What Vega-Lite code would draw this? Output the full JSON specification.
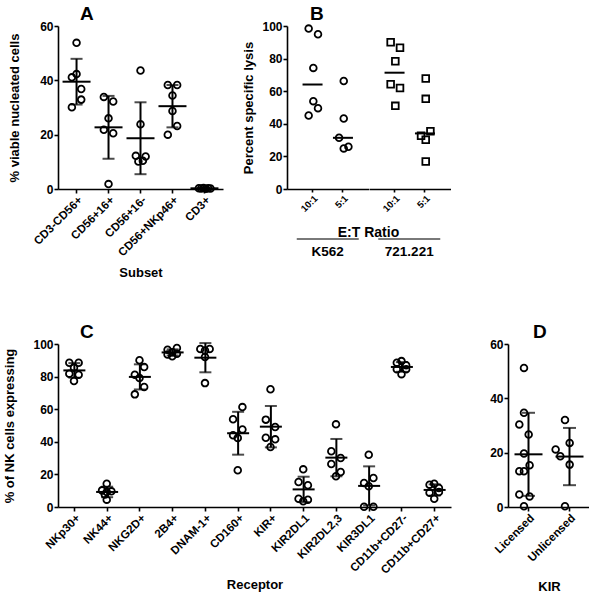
{
  "$schema": "https://vega.github.io/schema/vega-lite/v6.json",
  "padding": {"left": 3, "top": 5, "right": 0, "bottom": 0},
  "config": {
    "font": "Liberation Sans",
    "view": {"stroke": null},
    "axis": {"labelFont": "Liberation Sans", "labelFontWeight": "bold", "labelFontSize": 12, "labelColor": "black", "titleFont": "Liberation Sans", "titleFontWeight": "bold", "titleFontSize": 13, "titleColor": "black", "domainColor": "black", "domainWidth": 1.6, "tickColor": "black", "tickWidth": 1.6, "tickSize": 4, "labelPadding": 1, "grid": false, "labelOverlap": false},
    "title": {"font": "Liberation Sans", "fontSize": 19, "fontWeight": "bold", "color": "black", "anchor": "start", "frame": "group", "offset": -4}
  },
  "datasets": {
    "dA": [
      {"subset": "CD3-CD56+", "value": 53.8, "dodge": 0},
      {"subset": "CD3-CD56+", "value": 42.3, "dodge": 0},
      {"subset": "CD3-CD56+", "value": 41.1, "dodge": -1},
      {"subset": "CD3-CD56+", "value": 36.8, "dodge": 1},
      {"subset": "CD3-CD56+", "value": 32.9, "dodge": 1},
      {"subset": "CD3-CD56+", "value": 30.1, "dodge": -1},
      {"subset": "CD56+16+", "value": 33.9, "dodge": -1},
      {"subset": "CD56+16+", "value": 32.2, "dodge": 1},
      {"subset": "CD56+16+", "value": 26.0, "dodge": 0},
      {"subset": "CD56+16+", "value": 21.8, "dodge": -1},
      {"subset": "CD56+16+", "value": 20.5, "dodge": 1},
      {"subset": "CD56+16+", "value": 1.8, "dodge": 0},
      {"subset": "CD56+16-", "value": 43.6, "dodge": 0},
      {"subset": "CD56+16-", "value": 23.8, "dodge": 0},
      {"subset": "CD56+16-", "value": 12.2, "dodge": -1},
      {"subset": "CD56+16-", "value": 12.0, "dodge": 1.1},
      {"subset": "CD56+16-", "value": 10.1, "dodge": -0.45},
      {"subset": "CD56+16-", "value": 10.4, "dodge": 0.5},
      {"subset": "CD56+NKp46+", "value": 38.3, "dodge": -1},
      {"subset": "CD56+NKp46+", "value": 38.3, "dodge": 1},
      {"subset": "CD56+NKp46+", "value": 34.4, "dodge": 0},
      {"subset": "CD56+NKp46+", "value": 28.7, "dodge": 0},
      {"subset": "CD56+NKp46+", "value": 20.0, "dodge": -1},
      {"subset": "CD56+NKp46+", "value": 23.2, "dodge": 1},
      {"subset": "CD3+", "value": 0.3, "dodge": -1.2},
      {"subset": "CD3+", "value": 0.2, "dodge": -0.7},
      {"subset": "CD3+", "value": 0.4, "dodge": -0.2},
      {"subset": "CD3+", "value": 0.1, "dodge": 0.3},
      {"subset": "CD3+", "value": 0.3, "dodge": 0.8},
      {"subset": "CD3+", "value": 0.2, "dodge": 1.3}
    ],
    "dB": [
      {"target": "K562", "ratio": "10:1", "value": 98.4, "dodge": -1},
      {"target": "K562", "ratio": "10:1", "value": 94.9, "dodge": 1},
      {"target": "K562", "ratio": "10:1", "value": 74.3, "dodge": 0},
      {"target": "K562", "ratio": "10:1", "value": 53.9, "dodge": 0},
      {"target": "K562", "ratio": "10:1", "value": 49.6, "dodge": 1},
      {"target": "K562", "ratio": "10:1", "value": 45.1, "dodge": -1},
      {"target": "K562", "ratio": "5:1", "value": 66.3, "dodge": 0},
      {"target": "K562", "ratio": "5:1", "value": 43.3, "dodge": 0},
      {"target": "K562", "ratio": "5:1", "value": 31.4, "dodge": -1},
      {"target": "K562", "ratio": "5:1", "value": 24.9, "dodge": 0},
      {"target": "K562", "ratio": "5:1", "value": 25.9, "dodge": 1},
      {"target": "721.221", "ratio": "10:1", "value": 90.0, "dodge": -1},
      {"target": "721.221", "ratio": "10:1", "value": 86.7, "dodge": 1},
      {"target": "721.221", "ratio": "10:1", "value": 78.4, "dodge": 0},
      {"target": "721.221", "ratio": "10:1", "value": 64.3, "dodge": -1},
      {"target": "721.221", "ratio": "10:1", "value": 62.0, "dodge": 1},
      {"target": "721.221", "ratio": "10:1", "value": 51.0, "dodge": 0},
      {"target": "721.221", "ratio": "5:1", "value": 67.8, "dodge": 0},
      {"target": "721.221", "ratio": "5:1", "value": 55.3, "dodge": 0},
      {"target": "721.221", "ratio": "5:1", "value": 35.5, "dodge": 1},
      {"target": "721.221", "ratio": "5:1", "value": 32.7, "dodge": -1},
      {"target": "721.221", "ratio": "5:1", "value": 30.2, "dodge": 0},
      {"target": "721.221", "ratio": "5:1", "value": 16.9, "dodge": 0}
    ],
    "dG": [
      {"target": "K562"},
      {"target": "721.221"}
    ],
    "dC": [
      {"receptor": "NKp30+", "value": 88.5, "dodge": -1},
      {"receptor": "NKp30+", "value": 88.5, "dodge": 1},
      {"receptor": "NKp30+", "value": 85.5, "dodge": 0},
      {"receptor": "NKp30+", "value": 81.8, "dodge": -1},
      {"receptor": "NKp30+", "value": 81.2, "dodge": 1},
      {"receptor": "NKp30+", "value": 77.3, "dodge": 0},
      {"receptor": "NK44+", "value": 14.3, "dodge": 0},
      {"receptor": "NK44+", "value": 10.2, "dodge": -1},
      {"receptor": "NK44+", "value": 9.6, "dodge": 1},
      {"receptor": "NK44+", "value": 9.2, "dodge": 0},
      {"receptor": "NK44+", "value": 7.6, "dodge": -0.4},
      {"receptor": "NK44+", "value": 4.5, "dodge": 0},
      {"receptor": "NKG2D+", "value": 90.0, "dodge": 0},
      {"receptor": "NKG2D+", "value": 85.9, "dodge": 1},
      {"receptor": "NKG2D+", "value": 81.2, "dodge": -1},
      {"receptor": "NKG2D+", "value": 79.1, "dodge": 0},
      {"receptor": "NKG2D+", "value": 73.6, "dodge": 1},
      {"receptor": "NKG2D+", "value": 69.1, "dodge": -1},
      {"receptor": "2B4+", "value": 96.5, "dodge": -1},
      {"receptor": "2B4+", "value": 97.5, "dodge": 1},
      {"receptor": "2B4+", "value": 95.0, "dodge": 0},
      {"receptor": "2B4+", "value": 93.5, "dodge": -1},
      {"receptor": "2B4+", "value": 94.0, "dodge": 1},
      {"receptor": "2B4+", "value": 92.5, "dodge": 0},
      {"receptor": "DNAM-1+", "value": 97.0, "dodge": -1},
      {"receptor": "DNAM-1+", "value": 97.0, "dodge": 1},
      {"receptor": "DNAM-1+", "value": 96.0, "dodge": 0},
      {"receptor": "DNAM-1+", "value": 92.0, "dodge": 0},
      {"receptor": "DNAM-1+", "value": 76.0, "dodge": 0},
      {"receptor": "CD160+", "value": 61.3, "dodge": 1},
      {"receptor": "CD160+", "value": 53.8, "dodge": -1},
      {"receptor": "CD160+", "value": 47.6, "dodge": 1},
      {"receptor": "CD160+", "value": 44.0, "dodge": -1},
      {"receptor": "CD160+", "value": 42.3, "dodge": 0},
      {"receptor": "CD160+", "value": 22.5, "dodge": 0},
      {"receptor": "KIR+", "value": 72.2, "dodge": 0},
      {"receptor": "KIR+", "value": 53.6, "dodge": -1},
      {"receptor": "KIR+", "value": 49.1, "dodge": 1},
      {"receptor": "KIR+", "value": 42.5, "dodge": -1},
      {"receptor": "KIR+", "value": 41.5, "dodge": 1},
      {"receptor": "KIR+", "value": 36.8, "dodge": 0},
      {"receptor": "KIR2DL1", "value": 23.1, "dodge": 0},
      {"receptor": "KIR2DL1", "value": 15.3, "dodge": -1},
      {"receptor": "KIR2DL1", "value": 13.3, "dodge": 1},
      {"receptor": "KIR2DL1", "value": 5.1, "dodge": -1},
      {"receptor": "KIR2DL1", "value": 4.5, "dodge": 1},
      {"receptor": "KIR2DL1", "value": 3.5, "dodge": 0},
      {"receptor": "KIR2DL2,3", "value": 50.7, "dodge": 0},
      {"receptor": "KIR2DL2,3", "value": 34.2, "dodge": -1},
      {"receptor": "KIR2DL2,3", "value": 30.1, "dodge": 1},
      {"receptor": "KIR2DL2,3", "value": 26.4, "dodge": -1},
      {"receptor": "KIR2DL2,3", "value": 21.5, "dodge": 1},
      {"receptor": "KIR2DL2,3", "value": 18.8, "dodge": 0},
      {"receptor": "KIR3DL1", "value": 32.1, "dodge": 0},
      {"receptor": "KIR3DL1", "value": 17.8, "dodge": 1},
      {"receptor": "KIR3DL1", "value": 14.7, "dodge": -1},
      {"receptor": "KIR3DL1", "value": 12.7, "dodge": 0},
      {"receptor": "KIR3DL1", "value": 0.2, "dodge": -1},
      {"receptor": "KIR3DL1", "value": 0.2, "dodge": 1},
      {"receptor": "CD11b+CD27-", "value": 88.5, "dodge": -1},
      {"receptor": "CD11b+CD27-", "value": 89.5, "dodge": 0},
      {"receptor": "CD11b+CD27-", "value": 87.0, "dodge": 1},
      {"receptor": "CD11b+CD27-", "value": 84.5, "dodge": -1},
      {"receptor": "CD11b+CD27-", "value": 84.5, "dodge": 1},
      {"receptor": "CD11b+CD27-", "value": 81.5, "dodge": 0},
      {"receptor": "CD11b+CD27+", "value": 13.7, "dodge": -1},
      {"receptor": "CD11b+CD27+", "value": 14.3, "dodge": 0},
      {"receptor": "CD11b+CD27+", "value": 11.7, "dodge": 1},
      {"receptor": "CD11b+CD27+", "value": 8.8, "dodge": -1},
      {"receptor": "CD11b+CD27+", "value": 9.2, "dodge": 1},
      {"receptor": "CD11b+CD27+", "value": 5.1, "dodge": 0}
    ],
    "dD": [
      {"kir": "Licensed", "value": 51.2, "dodge": 0},
      {"kir": "Licensed", "value": 34.7, "dodge": 0},
      {"kir": "Licensed", "value": 30.4, "dodge": -1},
      {"kir": "Licensed", "value": 26.7, "dodge": 1},
      {"kir": "Licensed", "value": 19.7, "dodge": 0},
      {"kir": "Licensed", "value": 13.2, "dodge": -1},
      {"kir": "Licensed", "value": 13.2, "dodge": 0},
      {"kir": "Licensed", "value": 15.4, "dodge": 1.2},
      {"kir": "Licensed", "value": 4.6, "dodge": -1},
      {"kir": "Licensed", "value": 3.9, "dodge": 1.2},
      {"kir": "Licensed", "value": 0.3, "dodge": 0},
      {"kir": "Unlicensed", "value": 32.0, "dodge": 0},
      {"kir": "Unlicensed", "value": 23.6, "dodge": 1},
      {"kir": "Unlicensed", "value": 21.2, "dodge": -2},
      {"kir": "Unlicensed", "value": 18.7, "dodge": -1},
      {"kir": "Unlicensed", "value": 15.6, "dodge": 1},
      {"kir": "Unlicensed", "value": 0.3, "dodge": 0}
    ]
  },
  "vconcat": [
    {
      "hconcat": [
        {
          "width": 165, "height": 163,
          "title": {"text": "A", "dx": 22},
          "data": {"name": "dA"},
          "encoding": {
            "x": {"field": "subset", "type": "nominal", "sort": ["CD3-CD56+", "CD56+16+", "CD56+16-", "CD56+NKp46+", "CD3+"], "scale": {"paddingInner": 0, "paddingOuter": 0.08}, "axis": {"title": "Subset", "labelAngle": -45, "labelAlign": "right", "labelBaseline": "top", "labelFontSize": 11.5, "titlePadding": 8}}
          },
          "layer": [
            {
              "mark": {"type": "point", "shape": "circle", "size": 45, "strokeWidth": 1.8, "color": "black", "opacity": 1},
              "encoding": {
                "xOffset": {"field": "dodge", "type": "quantitative", "scale": {"domain": [-2.75, 2.75]}},
                "y": {"field": "value", "type": "quantitative", "title": "% viable nucleated cells", "scale": {"domain": [0, 60]}, "axis": {"values": [0, 20, 40, 60], "titlePadding": 18}}
              }
            },
            {
              "mark": {"type": "errorbar", "extent": "stdev", "ticks": {"size": 12}, "thickness": 2, "color": "black"},
              "encoding": {"y": {"field": "value", "type": "quantitative", "title": "% viable nucleated cells", "axis": {"values": [0, 20, 40, 60], "titlePadding": 18}}}
            },
            {
              "mark": {"type": "tick", "size": 28, "thickness": 2, "color": "black"},
              "encoding": {"y": {"aggregate": "mean", "field": "value", "type": "quantitative", "title": "% viable nucleated cells", "axis": {"values": [0, 20, 40, 60], "titlePadding": 18}}}
            }
          ]
        },
        {
          "title": {"text": "B", "dx": 23},
          "vconcat": [
            {
              "hconcat": [
                {
                  "width": 81.5, "height": 163,
                  "data": {"name": "dB"},
                  "transform": [{"filter": "datum.target === 'K562'"}],
                  "encoding": {
                    "x": {"field": "ratio", "type": "nominal", "sort": ["10:1", "5:1"], "scale": {"paddingInner": 0, "paddingOuter": 0.34}, "axis": {"title": null, "labelAngle": -45, "labelAlign": "right", "labelBaseline": "top", "labelFontSize": 9.5, "tickSize": 3}}
                  },
                  "layer": [
                    {
                      "mark": {"type": "point", "shape": "circle", "size": 45, "strokeWidth": 1.8, "color": "black", "opacity": 1},
                      "encoding": {
                        "xOffset": {"field": "dodge", "type": "quantitative", "scale": {"domain": [-3.04, 3.04]}},
                        "y": {"field": "value", "type": "quantitative", "title": "Percent specific lysis", "scale": {"domain": [0, 100]}, "axis": {"values": [0, 20, 40, 60, 80, 100], "titlePadding": 6}}
                      }
                    },
                    {
                      "mark": {"type": "tick", "size": 20, "thickness": 2, "color": "black"},
                      "encoding": {"y": {"aggregate": "median", "field": "value", "type": "quantitative", "title": "Percent specific lysis", "axis": {"values": [0, 20, 40, 60, 80, 100], "titlePadding": 6}}}
                    }
                  ]
                },
                {
                  "width": 81.5, "height": 163,
                  "data": {"name": "dB"},
                  "transform": [{"filter": "datum.target === '721.221'"}],
                  "encoding": {
                    "x": {"field": "ratio", "type": "nominal", "sort": ["10:1", "5:1"], "scale": {"paddingInner": 0, "paddingOuter": 0.34}, "axis": {"title": null, "labelAngle": -45, "labelAlign": "right", "labelBaseline": "top", "labelFontSize": 9.5, "tickSize": 3}}
                  },
                  "layer": [
                    {
                      "mark": {"type": "point", "shape": "square", "size": 45, "strokeWidth": 1.8, "color": "black", "opacity": 1},
                      "encoding": {
                        "xOffset": {"field": "dodge", "type": "quantitative", "scale": {"domain": [-3.04, 3.04]}},
                        "y": {"field": "value", "type": "quantitative", "scale": {"domain": [0, 100]}, "axis": null}
                      }
                    },
                    {
                      "mark": {"type": "tick", "size": 20, "thickness": 2, "color": "black"},
                      "encoding": {"y": {"aggregate": "median", "field": "value", "type": "quantitative", "axis": null}}
                    }
                  ]
                }
              ],
              "spacing": 0,
              "bounds": "flush"
            },
            {
              "width": 163, "height": 10,
              "title": {"text": "E:T Ratio", "anchor": "middle", "fontSize": 14, "offset": -6},
              "data": {"name": "dG"},
              "encoding": {
                "x": {"field": "target", "type": "nominal", "sort": ["K562", "721.221"], "scale": {"paddingInner": 0, "paddingOuter": 0}, "axis": null}
              },
              "layer": [
                {"mark": {"type": "tick", "orient": "horizontal", "size": 62, "thickness": 1.6, "color": "black"}, "encoding": {}},
                {"mark": {"type": "text", "dy": 13, "fontSize": 13.5, "fontWeight": "bold", "color": "black", "font": "Liberation Sans"}, "encoding": {"text": {"field": "target", "type": "nominal"}}}
              ]
            }
          ],
          "spacing": 12,
          "bounds": "full"
        }
      ],
      "spacing": 19,
      "bounds": "full"
    },
    {
      "hconcat": [
        {
          "width": 393, "height": 163,
          "title": {"text": "C", "dx": 22},
          "data": {"name": "dC"},
          "encoding": {
            "x": {"field": "receptor", "type": "nominal", "sort": ["NKp30+", "NK44+", "NKG2D+", "2B4+", "DNAM-1+", "CD160+", "KIR+", "KIR2DL1", "KIR2DL2,3", "KIR3DL1", "CD11b+CD27-", "CD11b+CD27+"], "scale": {"paddingInner": 0, "paddingOuter": 0}, "axis": {"title": "Receptor", "labelAngle": -45, "labelAlign": "right", "labelBaseline": "top", "labelFontSize": 11.5, "titlePadding": 3}}
          },
          "layer": [
            {
              "mark": {"type": "point", "shape": "circle", "size": 45, "strokeWidth": 1.8, "color": "black", "opacity": 1},
              "encoding": {
                "xOffset": {"field": "dodge", "type": "quantitative", "scale": {"domain": [-3.27, 3.27]}},
                "y": {"field": "value", "type": "quantitative", "title": "% of NK cells expressing", "scale": {"domain": [0, 100]}, "axis": {"values": [0, 20, 40, 60, 80, 100], "titlePadding": 16}}
              }
            },
            {
              "mark": {"type": "errorbar", "extent": "stdev", "ticks": {"size": 12}, "thickness": 2, "color": "black"},
              "encoding": {"y": {"field": "value", "type": "quantitative", "title": "% of NK cells expressing", "axis": {"values": [0, 20, 40, 60, 80, 100], "titlePadding": 16}}}
            },
            {
              "mark": {"type": "tick", "size": 22, "thickness": 2, "color": "black"},
              "encoding": {"y": {"aggregate": "mean", "field": "value", "type": "quantitative", "title": "% of NK cells expressing", "axis": {"values": [0, 20, 40, 60, 80, 100], "titlePadding": 16}}}
            }
          ]
        },
        {
          "width": 82, "height": 163,
          "title": {"text": "D", "dx": 25},
          "data": {"name": "dD"},
          "encoding": {
            "x": {"field": "kir", "type": "nominal", "sort": ["Licensed", "Unlicensed"], "scale": {"paddingInner": 0, "paddingOuter": 0}, "axis": {"title": "KIR", "labelAngle": -45, "labelAlign": "right", "labelBaseline": "top", "labelFontSize": 11.5, "titlePadding": 17}}
          },
          "layer": [
            {
              "mark": {"type": "point", "shape": "circle", "size": 45, "strokeWidth": 1.8, "color": "black", "opacity": 1},
              "encoding": {
                "xOffset": {"field": "dodge", "type": "quantitative", "scale": {"domain": [-3.42, 3.42]}},
                "y": {"field": "value", "type": "quantitative", "title": null, "scale": {"domain": [0, 60]}, "axis": {"values": [0, 20, 40, 60]}}
              }
            },
            {
              "mark": {"type": "errorbar", "extent": "stdev", "ticks": {"size": 13}, "thickness": 2, "color": "black"},
              "encoding": {"y": {"field": "value", "type": "quantitative", "title": null, "axis": {"values": [0, 20, 40, 60]}}}
            },
            {
              "mark": {"type": "tick", "size": 28, "thickness": 2, "color": "black"},
              "encoding": {"y": {"aggregate": "mean", "field": "value", "type": "quantitative", "title": null, "axis": {"values": [0, 20, 40, 60]}}}
            }
          ]
        }
      ],
      "spacing": 57,
      "bounds": "flush"
    }
  ],
  "spacing": 43,
  "bounds": "full"
}
